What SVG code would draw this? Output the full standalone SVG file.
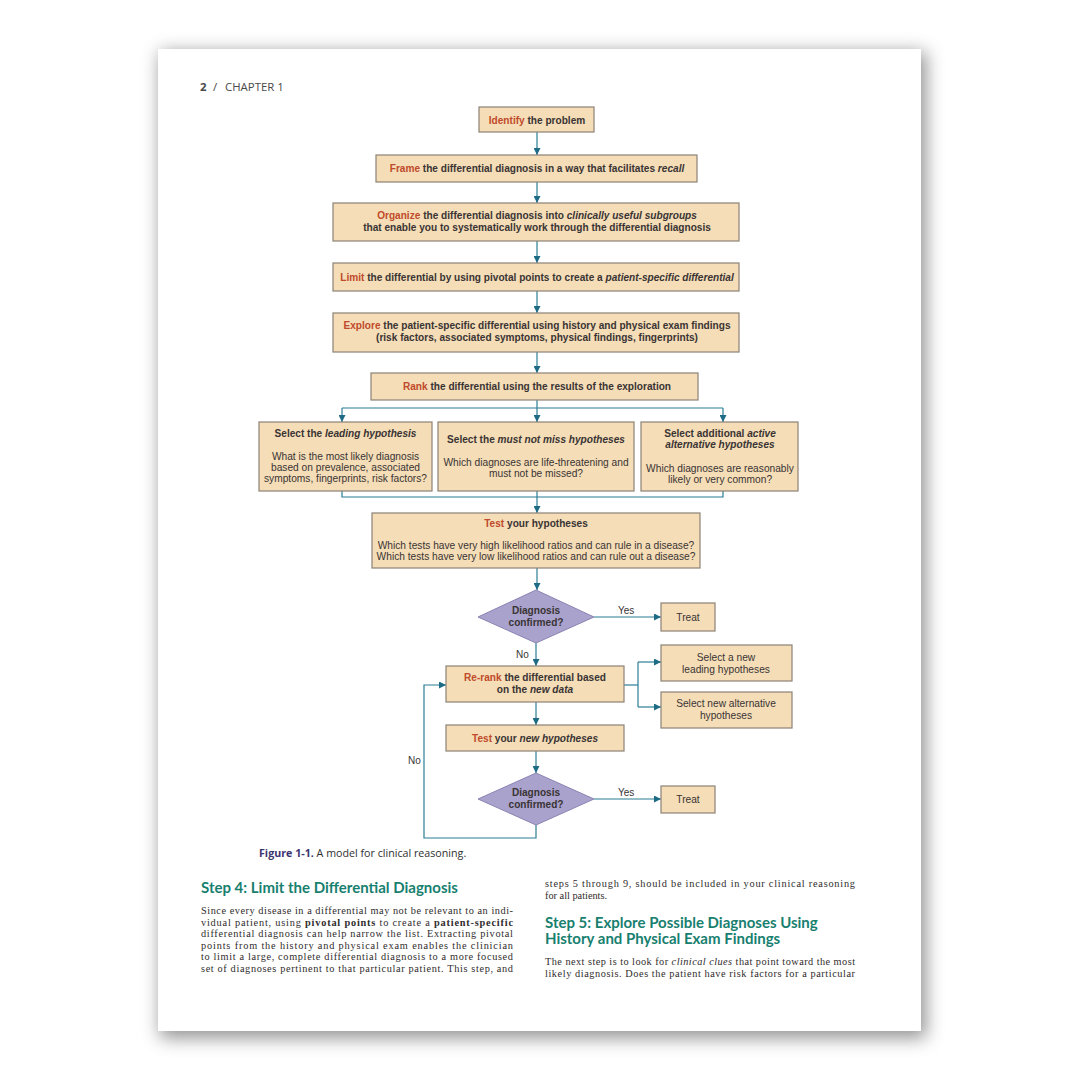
<svg xmlns="http://www.w3.org/2000/svg" width="1080" height="1080" viewBox="0 0 1080 1080">
<defs>
<filter id="sh" x="-10%" y="-10%" width="120%" height="120%"><feGaussianBlur stdDeviation="9"/></filter>
<marker id="ar" viewBox="0 0 10 10" refX="10" refY="5" markerWidth="7" markerHeight="7" orient="auto" markerUnits="userSpaceOnUse"><path d="M0,0 L10,5 L0,10 z" fill="#1d6b85"/></marker>
<style>
.box{fill:#f4ddb7;stroke:#8c8277;stroke-width:1.2}
.dia{fill:#a8a2cc;stroke:#8a84b3;stroke-width:1}
.b{font-family:"Liberation Sans",Arial,sans-serif;font-weight:bold;font-size:10.1px;fill:#3a3434;text-anchor:middle}
.r{font-family:"Liberation Sans",Arial,sans-serif;font-size:10.2px;fill:#3a3434;text-anchor:middle}
.k{fill:#c04a2a}
.i{font-style:italic}
.ln{fill:none;stroke:#2b7d95;stroke-width:1.2}
.la{fill:none;stroke:#2b7d95;stroke-width:1.2;marker-end:url(#ar)}
.lbl{font-family:"Liberation Sans",Arial,sans-serif;font-size:10px;fill:#3a3434}
.body{font-family:"Liberation Serif","Times New Roman",serif;font-size:10.3px;fill:#2f2c2c}
.hd{font-family:Lato,"Open Sans",sans-serif;font-weight:bold;font-size:15px;fill:#18806f}
</style>
</defs>
<rect width="1080" height="1080" fill="#ffffff"/>
<rect x="160" y="52" width="766" height="986" fill="#6e6e6e" opacity="0.75" filter="url(#sh)"/>
<rect x="158" y="49" width="763" height="982" fill="#ffffff"/>

<text y="91" style="font-family:'Open Sans','Liberation Sans',sans-serif;font-size:11.4px;fill:#4a4a4a"><tspan x="200" font-weight="bold">2</tspan><tspan x="213">/</tspan><tspan x="225">CHAPTER 1</tspan></text>

<g id="connectors">
<line class="la" x1="537" y1="132" x2="537" y2="155"/>
<line class="la" x1="537" y1="182" x2="537" y2="203"/>
<line class="la" x1="537" y1="241" x2="537" y2="263"/>
<line class="la" x1="537" y1="291" x2="537" y2="313"/>
<line class="la" x1="537" y1="352" x2="537" y2="373"/>
<line class="ln" x1="537" y1="400" x2="537" y2="408"/>
<polyline class="ln" points="342,408 723,408"/>
<line class="la" x1="342" y1="408" x2="342" y2="422"/>
<line class="la" x1="537" y1="408" x2="537" y2="422"/>
<line class="la" x1="723" y1="408" x2="723" y2="422"/>
<polyline class="ln" points="342,491 342,497 723,497 723,491"/>
<line class="ln" x1="537" y1="491" x2="537" y2="497"/>
<line class="la" x1="537" y1="497" x2="537" y2="513"/>
<line class="la" x1="537" y1="568" x2="537" y2="590"/>
<line class="la" x1="594" y1="617" x2="661" y2="617"/>
<line class="la" x1="536" y1="643" x2="536" y2="666"/>
<polyline class="ln" points="624,685 638,685"/>
<polyline class="ln" points="638,662 638,707"/>
<line class="la" x1="638" y1="662" x2="661" y2="662"/>
<line class="la" x1="638" y1="707" x2="661" y2="707"/>
<line class="la" x1="536" y1="702" x2="536" y2="725"/>
<line class="la" x1="536" y1="751" x2="536" y2="773"/>
<line class="la" x1="594" y1="799" x2="661" y2="799"/>
<polyline class="la" points="536,825 536,838 424,838 424,685 446,685"/>
</g>

<g id="n-identify"><rect class="box" x="479" y="107" width="115" height="25"/><text class="b" x="537" y="123.5"><tspan class="k">Identify</tspan> the problem</text></g>
<g id="n-frame"><rect class="box" x="376" y="155" width="321" height="27"/><text class="b" x="537" y="172"><tspan class="k">Frame</tspan> the differential diagnosis in a way that facilitates <tspan class="i">recall</tspan></text></g>
<g id="n-organize"><rect class="box" x="333" y="203" width="406" height="38"/><text class="b" x="537" y="219"><tspan class="k">Organize</tspan> the differential diagnosis into <tspan class="i">clinically useful subgroups</tspan></text><text class="b" x="537" y="231">that enable you to systematically work through the differential diagnosis</text></g>
<g id="n-limit"><rect class="box" x="333" y="263" width="406" height="28"/><text class="b" x="537" y="280.5"><tspan class="k">Limit</tspan> the differential by using pivotal points to create a <tspan class="i">patient-specific differential</tspan></text></g>
<g id="n-explore"><rect class="box" x="333" y="313" width="406" height="39"/><text class="b" x="537" y="329"><tspan class="k">Explore</tspan> the patient-specific differential using history and physical exam findings</text><text class="b" x="537" y="341">(risk factors, associated symptoms, physical findings, fingerprints)</text></g>
<g id="n-rank"><rect class="box" x="371" y="373" width="327" height="27"/><text class="b" x="537" y="390"><tspan class="k">Rank</tspan> the differential using the results of the exploration</text></g>
<g id="n-leading"><rect class="box" x="259" y="422" width="173" height="69"/><text class="b" x="345.5" y="437">Select the <tspan class="i">leading hypothesis</tspan></text><text class="r" x="345.5" y="460">What is the most likely diagnosis</text><text class="r" x="345.5" y="471">based on prevalence, associated</text><text class="r" x="345.5" y="482">symptoms, fingerprints, risk factors?</text></g>
<g id="n-mustnot"><rect class="box" x="438" y="422" width="196" height="69"/><text class="b" x="536" y="443">Select the <tspan class="i">must not miss hypotheses</tspan></text><text class="r" x="536" y="466">Which diagnoses are life-threatening and</text><text class="r" x="536" y="477">must not be missed?</text></g>
<g id="n-alternative"><rect class="box" x="641" y="422" width="157" height="69"/><text class="b" x="720" y="437">Select additional <tspan class="i">active</tspan></text><text class="b i" x="720" y="448">alternative hypotheses</text><text class="r" x="720" y="472">Which diagnoses are reasonably</text><text class="r" x="720" y="483">likely or very common?</text></g>
<g id="n-test"><rect class="box" x="372" y="513" width="328" height="55"/><text class="b" x="536" y="527"><tspan class="k">Test</tspan> your hypotheses</text><text class="r" x="536" y="549">Which tests have very high likelihood ratios and can rule in a disease?</text><text class="r" x="536" y="559.5">Which tests have very low likelihood ratios and can rule out a disease?</text></g>
<g id="n-diag1"><polygon class="dia" points="536,590 594,617 536,643 478,617"/><text class="b" x="536" y="614">Diagnosis</text><text class="b" x="536" y="626">confirmed?</text></g>
<text class="lbl" x="618" y="614">Yes</text>
<g id="n-treat1"><rect class="box" x="661" y="603" width="54" height="28"/><text class="r" x="688" y="620.5">Treat</text></g>
<text class="lbl" x="516" y="658">No</text>
<g id="n-rerank"><rect class="box" x="446" y="666" width="178" height="36"/><text class="b" x="535" y="681"><tspan class="k">Re-rank</tspan> the differential based</text><text class="b" x="535" y="693">on the <tspan class="i">new data</tspan></text></g>
<g id="n-newleading"><rect class="box" x="661" y="645" width="131" height="36"/><text class="r" x="726" y="660.5">Select a new</text><text class="r" x="726" y="672.5">leading hypotheses</text></g>
<g id="n-newalt"><rect class="box" x="661" y="692" width="131" height="36"/><text class="r" x="726" y="706.5">Select new alternative</text><text class="r" x="726" y="718.5">hypotheses</text></g>
<g id="n-testnew"><rect class="box" x="446" y="725" width="178" height="26"/><text class="b" x="535" y="741.5"><tspan class="k">Test</tspan> your <tspan class="i">new hypotheses</tspan></text></g>
<g id="n-diag2"><polygon class="dia" points="536,773 594,799 536,825 478,799"/><text class="b" x="536" y="796">Diagnosis</text><text class="b" x="536" y="808">confirmed?</text></g>
<text class="lbl" x="618" y="796">Yes</text>
<g id="n-treat2"><rect class="box" x="661" y="786" width="54" height="27"/><text class="r" x="688" y="803">Treat</text></g>
<text class="lbl" x="408" y="764">No</text>

<text x="259" y="857" style="font-family:'Open Sans','Liberation Sans',sans-serif;font-size:10.7px;fill:#2f2f2f"><tspan font-weight="bold" fill="#3c3470">Figure 1-1.</tspan> A model for clinical reasoning.</text>

<text class="hd" x="201" y="893">Step 4: Limit the Differential Diagnosis</text>
<text class="body" x="201" y="914" textLength="312" lengthAdjust="spacing">Since every disease in a differential may not be relevant to an indi-</text>
<text class="body" x="201" y="925.5" textLength="312" lengthAdjust="spacing">vidual patient, using <tspan font-weight="bold">pivotal points</tspan> to create a <tspan font-weight="bold">patient-specific</tspan></text>
<text class="body" x="201" y="937" textLength="312" lengthAdjust="spacing">differential diagnosis can help narrow the list. Extracting pivotal</text>
<text class="body" x="201" y="948.5" textLength="312" lengthAdjust="spacing">points from the history and physical exam enables the clinician</text>
<text class="body" x="201" y="960" textLength="312" lengthAdjust="spacing">to limit a large, complete differential diagnosis to a more focused</text>
<text class="body" x="201" y="971.5" textLength="312" lengthAdjust="spacing">set of diagnoses pertinent to that particular patient. This step, and</text>

<text class="body" x="545" y="887" textLength="310" lengthAdjust="spacing">steps 5 through 9, should be included in your clinical reasoning</text>
<text class="body" x="545" y="898.5">for all patients.</text>
<text class="hd" x="545" y="928">Step 5: Explore Possible Diagnoses Using</text>
<text class="hd" x="545" y="944">History and Physical Exam Findings</text>
<text class="body" x="545" y="965" textLength="310" lengthAdjust="spacing">The next step is to look for <tspan font-style="italic">clinical clues</tspan> that point toward the most</text>
<text class="body" x="545" y="976.5" textLength="310" lengthAdjust="spacing">likely diagnosis. Does the patient have risk factors for a particular</text>
</svg>
